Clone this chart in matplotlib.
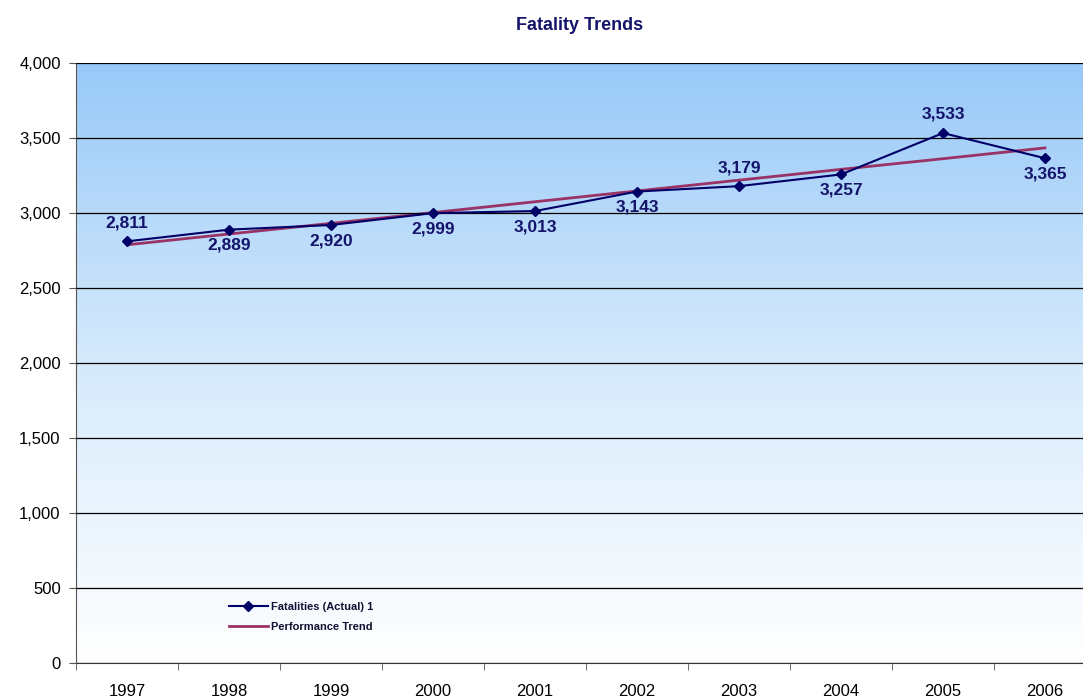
import numpy as np
import matplotlib.pyplot as plt
from matplotlib.colors import LinearSegmentedColormap
from matplotlib.ticker import FuncFormatter, FixedLocator

years = ["1997", "1998", "1999", "2000", "2001", "2002", "2003", "2004", "2005", "2006"]
fatalities = [2811, 2889, 2920, 2999, 3013, 3143, 3179, 3257, 3533, 3365]
trend = [2788, 2860, 2931, 3003, 3075, 3147, 3219, 3291, 3362, 3434]
label_above = [True, False, False, False, False, False, True, False, True, False]

plt.rcParams['font.family'] = ['Liberation Sans', 'DejaVu Sans']
navy = '#14146b'

fig = plt.figure(figsize=(10.83, 7.0), dpi=100)
# plot area runs slightly past the right edge of the picture
ax = fig.add_axes([76 / 1083, 37 / 700, 1020 / 1083, 600 / 700])

x = np.arange(len(years))
ax.set_xlim(-0.5, len(years) - 0.5)
ax.set_ylim(0, 4000)

# blue-to-white gradient background
cmap = LinearSegmentedColormap.from_list('bg', ['#ffffff', '#d6eafc', '#98c9f8'])
grad = np.linspace(0, 1, 256).reshape(-1, 1)
ax.imshow(grad, cmap=cmap, aspect='auto', origin='lower',
          extent=[-0.5, len(years) - 0.5, 0, 4000], zorder=0)

ax.yaxis.grid(True, color='black', lw=0.9, zorder=1)
ax.set_axisbelow(False)

ax.plot(x, fatalities, color='#000066', lw=1.5, marker='D', ms=5,
        label='Fatalities (Actual) 1', zorder=3)
ax.plot(x, trend, color='#993366', lw=2, label='Performance Trend', zorder=2)

for xi, v, up in zip(x, fatalities, label_above):
    ax.annotate(f"{v:,}", (xi, v), xytext=(0, 8 if up else -6),
                textcoords='offset points', ha='center',
                va='bottom' if up else 'top', fontsize=12.5,
                fontweight='bold', color=navy, zorder=4)

ax.set_yticks(range(0, 4001, 500))
ax.yaxis.set_major_formatter(FuncFormatter(lambda v, p: f"{int(v):,}"))
ax.set_xticks(x)
ax.set_xticklabels(years)
ax.xaxis.set_minor_locator(FixedLocator(np.arange(-0.5, len(years), 1)))
ax.tick_params(axis='x', which='major', length=0, pad=15, labelsize=12)
ax.tick_params(axis='x', which='minor', length=5, direction='out', color='#555555')
ax.tick_params(axis='y', length=5, direction='out', labelsize=12, color='#555555', pad=6)

for side in ['top', 'right']:
    ax.spines[side].set_visible(False)
ax.spines['left'].set_color('#555555')
ax.spines['bottom'].set_color('#333333')

fig.text(580 / 1083, 1 - 25 / 700, "Fatality Trends", ha='center', va='center',
         fontsize=13, fontweight='bold', color=navy)

leg = ax.legend(loc='lower left', bbox_to_anchor=(0.14, 0.035), frameon=False,
                prop={'size': 8, 'weight': 'bold'}, handlelength=3.5,
                labelspacing=0.9, handletextpad=0.3)
for t in leg.get_texts():
    t.set_color('#111133')

fig.savefig('out.png', dpi=100)
